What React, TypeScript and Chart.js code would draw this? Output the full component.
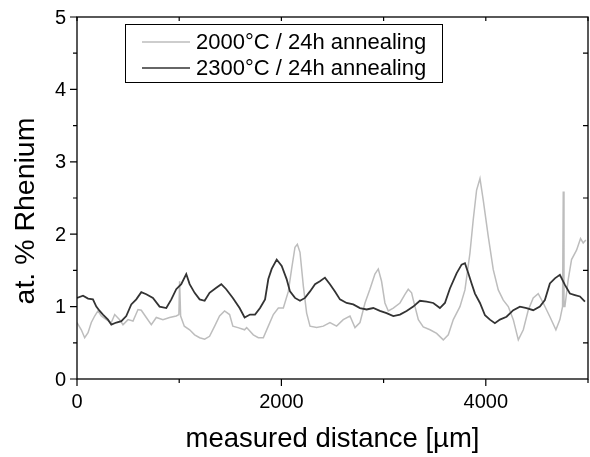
import React, { useEffect, useRef } from "react";
import { Chart, registerables } from "chart.js";

Chart.register(...registerables);

const FONT = '"Liberation Sans", Arial, Helvetica, sans-serif';

const seriesLabels = ["2000°C / 24h annealing", "2300°C / 24h annealing"];
const seriesColors = ["#bdbdbd", "#333333"];

const xTitle = "measured distance [µm]";
const yTitle = "at. % Rhenium";

const xTickLabels = [0, 2000, 4000];
const yTickLabels = [0, 1, 2, 3, 4, 5];

const lightX = [0, 42, 75, 108, 140, 173, 205, 238, 287, 336, 369, 417, 450, 499, 548, 597, 629, 678, 727, 776, 841, 906, 971, 997, 1004, 1014, 1050, 1102, 1151, 1200, 1249, 1297, 1347, 1395, 1444, 1493, 1525, 1575, 1640, 1660, 1725, 1774, 1823, 1872, 1921, 1970, 2019, 2068, 2100, 2133, 2156, 2182, 2215, 2247, 2280, 2345, 2410, 2475, 2540, 2605, 2671, 2720, 2769, 2818, 2866, 2915, 2948, 2980, 3013, 3046, 3095, 3160, 3209, 3241, 3274, 3291, 3340, 3388, 3454, 3519, 3584, 3633, 3682, 3747, 3796, 3845, 3877, 3910, 3943, 3975, 4024, 4073, 4122, 4171, 4220, 4269, 4318, 4367, 4415, 4464, 4513, 4562, 4627, 4686, 4725, 4751, 4758, 4765, 4774, 4806, 4839, 4888, 4927, 4953, 4979];
const lightY = [0.78, 0.68, 0.57, 0.64, 0.78, 0.87, 0.94, 0.87, 0.82, 0.78, 0.89, 0.82, 0.75, 0.82, 0.80, 0.96, 0.95, 0.85, 0.75, 0.85, 0.82, 0.85, 0.87, 0.89, 1.35, 0.87, 0.73, 0.68, 0.61, 0.57, 0.55, 0.59, 0.73, 0.87, 0.94, 0.89, 0.73, 0.71, 0.68, 0.71, 0.61, 0.57, 0.57, 0.73, 0.89, 0.98, 0.98, 1.21, 1.52, 1.82, 1.86, 1.75, 1.28, 0.91, 0.73, 0.71, 0.73, 0.78, 0.73, 0.82, 0.87, 0.71, 0.78, 1.05, 1.24, 1.45, 1.52, 1.35, 1.05, 0.94, 0.98, 1.05, 1.17, 1.24, 1.19, 1.09, 0.82, 0.72, 0.68, 0.63, 0.54, 0.61, 0.82, 1.0, 1.23, 1.74, 2.20, 2.61, 2.77, 2.47, 1.97, 1.51, 1.23, 1.09, 1.0, 0.82, 0.54, 0.68, 0.95, 1.12, 1.18, 1.05, 0.86, 0.68, 0.82, 1.0, 2.59, 1.0, 1.0, 1.37, 1.65, 1.78, 1.94, 1.88, 1.92];

const darkX = [0, 59, 108, 156, 189, 222, 254, 303, 336, 385, 434, 482, 531, 580, 629, 678, 743, 808, 874, 923, 971, 1020, 1069, 1102, 1151, 1200, 1249, 1297, 1363, 1412, 1460, 1525, 1591, 1640, 1693, 1742, 1791, 1840, 1872, 1905, 1954, 2003, 2051, 2084, 2133, 2182, 2231, 2280, 2329, 2377, 2426, 2475, 2524, 2573, 2638, 2703, 2769, 2834, 2899, 2964, 3029, 3095, 3160, 3225, 3290, 3355, 3421, 3486, 3551, 3600, 3649, 3714, 3763, 3796, 3829, 3861, 3894, 3943, 3992, 4040, 4089, 4138, 4203, 4269, 4334, 4399, 4464, 4529, 4578, 4627, 4676, 4725, 4774, 4823, 4872, 4921, 4970];
const darkY = [1.12, 1.15, 1.11, 1.10, 1.0, 0.94, 0.89, 0.82, 0.75, 0.78, 0.80, 0.87, 1.03, 1.10, 1.20, 1.17, 1.12, 1.0, 0.98, 1.10, 1.24, 1.31, 1.45, 1.31, 1.19, 1.10, 1.08, 1.19, 1.26, 1.31, 1.24, 1.12, 0.98, 0.85, 0.89, 0.89, 0.98, 1.10, 1.38, 1.52, 1.65, 1.56, 1.38, 1.21, 1.12, 1.08, 1.12, 1.21, 1.31, 1.35, 1.40, 1.31, 1.21, 1.10, 1.05, 1.03, 0.98, 0.96, 0.98, 0.94, 0.91, 0.87, 0.89, 0.94, 1.0, 1.08, 1.07, 1.05, 0.98, 1.05, 1.25, 1.46, 1.58, 1.60, 1.46, 1.32, 1.18, 1.05, 0.88, 0.82, 0.77, 0.82, 0.86, 0.95, 1.0, 0.98, 0.95, 1.0, 1.09, 1.32, 1.39, 1.44, 1.30, 1.18, 1.16, 1.14, 1.07];

const toPoints = (xs: number[], ys: number[]) => xs.map((x, i) => ({ x, y: ys[i] }));

const framePlugin = {
  id: "framePlugin",
  afterDraw(chart: any) {
    const { ctx, chartArea } = chart;
    const xs = chart.scales.x;
    const ys = chart.scales.y;
    const { left, right, top, bottom } = chartArea;
    ctx.save();
    ctx.strokeStyle = "#000";
    ctx.lineWidth = 1.3;
    ctx.strokeRect(left, top, right - left, bottom - top);
    ctx.lineWidth = 1.2;
    ctx.beginPath();
    for (let v = 0; v <= 5000; v += 1000) {
      const px = xs.getPixelForValue(v);
      const major = v % 2000 === 0;
      ctx.moveTo(px, bottom);
      ctx.lineTo(px, bottom + (major ? 7 : 4));
      ctx.moveTo(px, top);
      ctx.lineTo(px, top + 4);
    }
    for (let i = 0; i <= 10; i++) {
      const v = i * 0.5;
      const py = ys.getPixelForValue(v);
      const major = i % 2 === 0;
      ctx.moveTo(left, py);
      ctx.lineTo(left - (major ? 7 : 4), py);
      if (!major) {
        ctx.moveTo(right, py);
        ctx.lineTo(right - 5, py);
      }
    }
    ctx.stroke();

    // tick labels
    ctx.fillStyle = "#000";
    ctx.font = `20px ${FONT}`;
    ctx.textAlign = "center";
    ctx.textBaseline = "middle";
    xTickLabels.forEach((v) => {
      ctx.fillText(String(v), xs.getPixelForValue(v), 402);
    });
    ctx.textAlign = "right";
    yTickLabels.forEach((v) => {
      ctx.fillText(String(v), 66, ys.getPixelForValue(v) + 1);
    });

    // axis titles
    ctx.textAlign = "center";
    ctx.textBaseline = "alphabetic";
    ctx.font = `27.5px ${FONT}`;
    ctx.fillText(xTitle, (left + right) / 2, 447);
    ctx.save();
    ctx.translate(34, 211);
    ctx.rotate(-Math.PI / 2);
    ctx.font = `28.5px ${FONT}`;
    ctx.fillText(yTitle, 0, 0);
    ctx.restore();

    // legend
    const bx = 125, by = 24, bw = 317, bh = 58;
    ctx.fillStyle = "#fff";
    ctx.fillRect(bx, by, bw, bh);
    ctx.lineWidth = 1;
    ctx.strokeStyle = "#000";
    ctx.strokeRect(bx + 0.5, by + 0.5, bw, bh);
    const rows = [42, 68];
    chart.data.datasets.forEach((ds: any, i: number) => {
      const y = rows[i];
      ctx.strokeStyle = ds.borderColor;
      ctx.lineWidth = 1.3;
      ctx.beginPath();
      ctx.moveTo(142, y);
      ctx.lineTo(190, y);
      ctx.stroke();
      ctx.fillStyle = "#000";
      ctx.font = `22px ${FONT}`;
      ctx.textAlign = "left";
      ctx.textBaseline = "middle";
      ctx.fillText(ds.label, 196, y + 1);
    });
    ctx.restore();
  },
};

export default function App() {
  const ref = useRef<HTMLCanvasElement | null>(null);
  useEffect(() => {
    if (!ref.current) return;
    const chart = new Chart(ref.current, {
      type: "line",
      data: {
        datasets: [
          {
            label: seriesLabels[0],
            data: toPoints(lightX, lightY),
            borderColor: seriesColors[0],
            borderWidth: 1.5,
            pointRadius: 0,
            tension: 0,
            order: 1,
          },
          {
            label: seriesLabels[1],
            data: toPoints(darkX, darkY),
            borderColor: seriesColors[1],
            borderWidth: 1.8,
            pointRadius: 0,
            tension: 0,
            order: 0,
          },
        ],
      },
      options: {
        animation: false,
        responsive: false,
        devicePixelRatio: 1,
        layout: { padding: { top: 17, right: 2, left: 0, bottom: 0 } },
        plugins: { legend: { display: false }, tooltip: { enabled: false } },
        scales: {
          x: {
            type: "linear",
            min: 0,
            max: 5000,
            grid: { display: false },
            border: { display: false },
            ticks: { display: false, stepSize: 1000 },
            afterFit: (s: any) => {
              s.height = 78;
            },
          },
          y: {
            min: 0,
            max: 5,
            grid: { display: false },
            border: { display: false },
            ticks: { display: false, stepSize: 0.5 },
            afterFit: (s: any) => {
              s.width = 77;
            },
          },
        },
      },
      plugins: [framePlugin],
    });
    return () => chart.destroy();
  }, []);
  return (
    <div style={{ position: "absolute", left: 0, top: 0, width: 590, height: 457, background: "#fff" }}>
      <canvas ref={ref} width={590} height={457} style={{ display: "block" }} />
    </div>
  );
}
